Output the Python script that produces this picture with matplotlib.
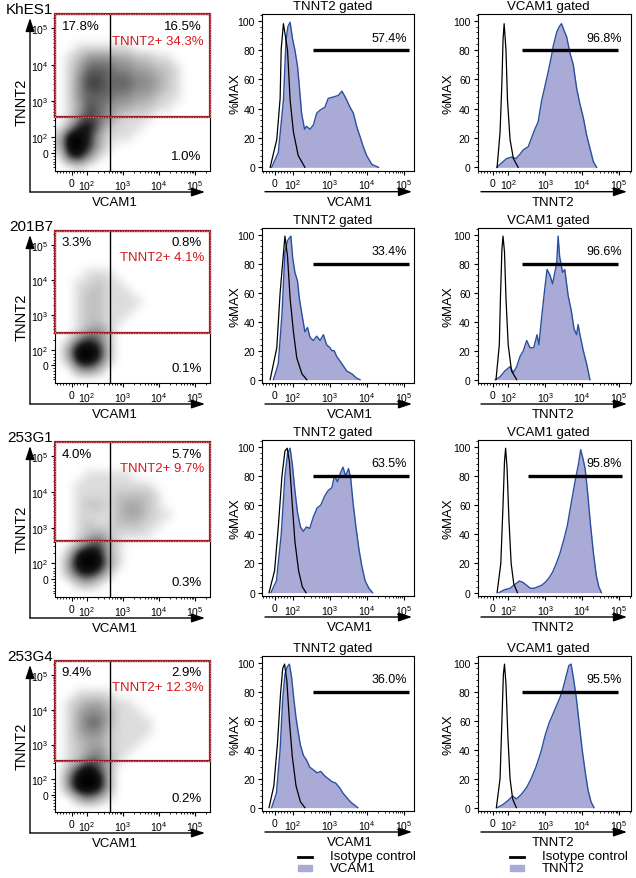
import numpy as np
import matplotlib
matplotlib.use("Agg")
import matplotlib.pyplot as plt
from matplotlib.patches import Rectangle, FancyArrowPatch
from matplotlib.lines import Line2D
from matplotlib.colors import LinearSegmentedColormap
from matplotlib.ticker import FixedLocator, AutoMinorLocator

plt.rcParams['font.family'] = ['Liberation Sans', 'DejaVu Sans']
plt.rcParams['mathtext.fontset'] = 'custom'
plt.rcParams['mathtext.rm'] = 'Liberation Sans'
plt.rcParams['mathtext.it'] = 'Liberation Sans:italic'

# ---- data ----
lines = ["KhES1", "201B7", "253G1", "253G4"]
q1_pct = ["17.8%", "3.3%", "4.0%", "9.4%"]
q2_pct = ["16.5%", "0.8%", "5.7%", "2.9%"]
tnnt2_pos = ["TNNT2+ 34.3%", "TNNT2+ 4.1%", "TNNT2+ 9.7%", "TNNT2+ 12.3%"]
q4_pct = ["1.0%", "0.1%", "0.3%", "0.2%"]
vcam1_gate_pct = ["57.4%", "33.4%", "63.5%", "36.0%"]
tnnt2_gate_pct = ["96.8%", "96.6%", "95.8%", "95.5%"]

# quadrant gates, in display decades (10^2 = 2, 10^3 = 3 ...)
vcam1_cut = 2.64
tnnt2_cut = [2.55, 2.49, 2.62, 2.52]
# histogram gate bars (start, end) in display decades
vcam1_bar = [(2.53, 5.14), (2.53, 5.14), (2.53, 5.14), (2.53, 5.14)]
tnnt2_bar = [(2.36, 4.97), (2.36, 4.97), (2.53, 5.07), (2.36, 4.97)]

# event density on a 16x16 grid (top row first), 0 = empty, 9 = solid
density = [
    ["0000000000000000",
     "0000000000000000",
     "0000000000000000",
     "0011111100000000",
     "0124443322110000",
     "0135554433221000",
     "0146655544321000",
     "0146655544321000",
     "0145554433211000",
     "0136543322110000",
     "0146542111000000",
     "0378521110000000",
     "2997311100000000",
     "2997310000000000",
     "0784100000000000",
     "0010000000000000"],
    ["0000000000000000",
     "0000000000000000",
     "0000000000000000",
     "0000000000000000",
     "0001110000000000",
     "0011211000000000",
     "0012211100000000",
     "0012211110000000",
     "0012211100000000",
     "0012211000000000",
     "0013420000000000",
     "0157520000000000",
     "0499820000000000",
     "0399720000000000",
     "0045300000000000",
     "0000000000000000"],
    ["0000000000000000",
     "0000000000000000",
     "0000000000000000",
     "0001111100000000",
     "0011111111000000",
     "0011112222100000",
     "0012212332100000",
     "0011112332110000",
     "0012112221100000",
     "0012321111000000",
     "0025631000000000",
     "0289831000000000",
     "0499941000000000",
     "0378620000000000",
     "0023100000000000",
     "0000000000000000"],
    ["0000000000000000",
     "0000000000000000",
     "0000000000000000",
     "0011110000000000",
     "0123321100000000",
     "0134431110000000",
     "0135531111000000",
     "0134421111000000",
     "0123321110000000",
     "0123421100000000",
     "0125531000000000",
     "0379630000000000",
     "0599930000000000",
     "0499830000000000",
     "0035310000000000",
     "0000000000000000"],
]

# histograms, x in display decades, y in %MAX
vcam1_iso_x = [
    [1.38, 1.56, 1.65, 1.68, 1.74, 1.85, 1.92, 2.01, 2.14, 2.32],
    [1.38, 1.56, 1.65, 1.72, 1.78, 1.85, 1.92, 2.01, 2.10, 2.24, 2.37],
    [1.35, 1.50, 1.60, 1.70, 1.78, 1.84, 1.90, 1.98, 2.05, 2.15, 2.25, 2.35],
    [1.35, 1.48, 1.58, 1.66, 1.72, 1.77, 1.83, 1.90, 1.98, 2.08, 2.20, 2.32],
]
vcam1_iso_y = [
    [0, 19, 47, 81, 98, 80, 46, 24, 8, 0],
    [0, 22, 60, 81, 99, 85, 56, 33, 15, 4, 0],
    [0, 15, 45, 80, 97, 99, 90, 60, 35, 15, 4, 0],
    [0, 15, 45, 78, 96, 99, 88, 60, 35, 15, 4, 0],
]
vcam1_x = [
    [1.42, 1.60, 1.74, 1.81, 1.86, 1.92, 1.99, 2.05, 2.12, 2.17, 2.23, 2.31, 2.36, 2.46, 2.55, 2.64,
     2.73, 2.86, 2.95, 3.09, 3.22, 3.32, 3.41, 3.54, 3.63, 3.72, 3.81, 3.90, 3.99, 4.13, 4.31],
    [1.47, 1.60, 1.70, 1.78, 1.85, 1.94, 1.99, 2.05, 2.12, 2.17, 2.24, 2.32, 2.39, 2.46, 2.55, 2.64,
     2.73, 2.82, 2.91, 3.00, 3.05, 3.11, 3.18, 3.32, 3.45, 3.59, 3.72, 3.81],
    [1.40, 1.55, 1.68, 1.78, 1.85, 1.92, 1.98, 2.05, 2.12, 2.20, 2.28, 2.36, 2.45, 2.55, 2.65, 2.75,
     2.85, 2.95, 3.05, 3.12, 3.20, 3.28, 3.35, 3.42, 3.50, 3.56, 3.62, 3.70, 3.78, 3.86, 3.95, 4.05, 4.15],
    [1.42, 1.55, 1.65, 1.72, 1.78, 1.84, 1.90, 1.96, 2.02, 2.08, 2.14, 2.20, 2.28, 2.36, 2.45, 2.55,
     2.65, 2.75, 2.85, 2.95, 3.05, 3.15, 3.25, 3.35, 3.45, 3.55, 3.65, 3.75],
]
vcam1_y = [
    [0, 10, 46, 87, 96, 99, 87, 80, 69, 55, 37, 26, 28, 26, 29, 37,
     39, 41, 47, 48, 49, 52, 48, 41, 37, 28, 21, 14, 8, 2, 0],
    [0, 11, 45, 88, 96, 99, 84, 74, 68, 56, 45, 33, 36, 29, 27, 30,
     27, 31, 24, 22, 20, 20, 16, 11, 6, 4, 1, 0],
    [0, 8, 40, 80, 95, 99, 88, 70, 55, 45, 42, 45, 44, 52, 58, 60,
     66, 70, 72, 80, 76, 82, 86, 80, 85, 78, 62, 45, 30, 18, 8, 3, 0],
    [0, 10, 40, 75, 92, 97, 99, 90, 75, 62, 52, 43, 36, 33, 28, 26,
     24, 25, 22, 20, 18, 17, 14, 10, 7, 4, 2, 0],
]
tnnt2_iso_x = [
    [1.70, 1.78, 1.83, 1.86, 1.89, 1.94, 1.98, 2.05, 2.14, 2.27],
    [1.67, 1.76, 1.79, 1.83, 1.86, 1.90, 1.94, 2.00, 2.09, 2.23],
    [1.70, 1.80, 1.86, 1.90, 1.93, 1.97, 2.02, 2.08, 2.15, 2.25],
    [1.68, 1.78, 1.83, 1.87, 1.90, 1.94, 1.99, 2.05, 2.12, 2.22],
]
tnnt2_iso_y = [
    [0, 24, 58, 87, 98, 80, 46, 19, 6, 0],
    [0, 24, 56, 90, 99, 88, 56, 24, 6, 0],
    [0, 20, 60, 90, 99, 85, 50, 20, 6, 0],
    [0, 20, 60, 92, 99, 85, 50, 20, 6, 0],
]
tnnt2_x = [
    [1.69, 1.82, 1.96, 2.09, 2.21, 2.32, 2.41, 2.54, 2.63, 2.72, 2.81, 2.90, 2.99, 3.08, 3.17,
     3.22, 3.31, 3.38, 3.44, 3.50, 3.58, 3.67, 3.76, 3.85, 3.94, 4.03, 4.12, 4.21, 4.30, 4.39],
    [1.65, 1.78, 1.91, 2.05, 2.14, 2.23, 2.32, 2.41, 2.50, 2.59, 2.69, 2.78, 2.83, 2.90, 2.99, 3.05,
     3.13, 3.20, 3.26, 3.31, 3.35, 3.39, 3.47, 3.53, 3.62, 3.71, 3.78, 3.85, 3.89, 3.94, 4.03, 4.12, 4.21],
    [1.75, 1.90, 2.05, 2.20, 2.30, 2.40, 2.50, 2.60, 2.70, 2.80, 2.90, 3.00, 3.10, 3.20, 3.30, 3.40,
     3.50, 3.60, 3.68, 3.75, 3.82, 3.90, 3.96, 4.02, 4.08, 4.15, 4.22, 4.30, 4.38, 4.45, 4.52],
    [1.70, 1.85, 2.00, 2.12, 2.22, 2.35, 2.50, 2.62, 2.75, 2.88, 3.00, 3.10, 3.20, 3.30, 3.40, 3.48,
     3.56, 3.64, 3.70, 3.76, 3.84, 3.92, 4.00, 4.08, 4.16, 4.24, 4.32],
]
tnnt2_y = [
    [0, 3, 6, 7, 6, 9, 12, 14, 20, 26, 31, 45, 55, 65, 76,
     83, 92, 96, 98, 94, 89, 78, 70, 54, 43, 34, 22, 13, 4, 0],
    [0, 2, 6, 9, 5, 9, 16, 20, 27, 22, 22, 31, 24, 42, 63, 76,
     72, 66, 74, 80, 99, 85, 74, 76, 58, 47, 35, 31, 38, 31, 20, 11, 0],
    [0, 2, 3, 6, 8, 7, 5, 3, 3, 4, 5, 7, 10, 14, 20, 27,
     36, 46, 58, 68, 78, 88, 98, 92, 85, 68, 48, 28, 12, 4, 0],
    [0, 2, 5, 8, 6, 9, 14, 20, 28, 38, 50, 58, 64, 70, 76, 82,
     90, 98, 99, 90, 76, 58, 40, 25, 12, 4, 0],
]

# ---- layout (reference pixels) ----
W, H = 636, 879
sc_rows = [(15, 172), (232, 384), (443, 598), (662, 813)]
hi_rows = [(15, 171.7), (229, 384), (441, 597), (657, 812)]
sc_x = (55, 209.5)
hi_cols = [(262, 414), (477.5, 631)]

FILL = '#aaaad6'
EDGE = '#2850a0'
RED = '#d7191c'
GATE = '#9b1c22'
labels_dec = ['0', '$10^2$', '$10^3$', '$10^4$', '$10^5$']

fig = plt.figure(figsize=(W / 100, H / 100), dpi=100)


def rect(x0, x1, y0, y1):
    return [x0 / W, 1 - y1 / H, (x1 - x0) / W, (y1 - y0) / H]


def fx(x):
    return x / W


def fy(y):
    return 1 - y / H


def arrow(x0, y0, x1, y1):
    a = FancyArrowPatch((fx(x0), fy(y0)), (fx(x1), fy(y1)), transform=fig.transFigure,
                        arrowstyle='-|>,head_length=0.9,head_width=0.3', mutation_scale=9,
                        lw=1.0, color='black', shrinkA=0, shrinkB=0)
    fig.add_artist(a)


def flow_axis(axis, zero, lo, hi):
    major = [zero, 2, 3, 4, 5]
    axis.set_major_locator(FixedLocator(major))
    axis.set_ticklabels(labels_dec)
    minor = [d + np.log10(k) for d in (2, 3, 4, 5) for k in range(2, 10)]
    minor += list(np.arange(zero - 0.4, 1.95, 0.08))
    minor = [m for m in minor if lo < m < hi and abs(m - zero) > 0.02]
    axis.set_minor_locator(FixedLocator(minor))


cmap = LinearSegmentedColormap.from_list(
    'dots', [(0, 'white'), (0.12, '#d9d9d9'), (0.45, '#8a8a8a'), (0.8, '#1a1a1a'), (1, 'black')])

sx_lo, sx_hi = 1.11, 5.40
sy_lo, sy_hi = 1.06, 5.40

for i in range(4):
    top, bot = sc_rows[i]
    ax = fig.add_axes(rect(sc_x[0], sc_x[1], top, bot))
    ax.set_xlim(sx_lo, sx_hi)
    ax.set_ylim(sy_lo, sy_hi)
    grid = np.array([[int(c) for c in s] for s in density[i]], dtype=float)
    ax.imshow(grid, extent=(sx_lo, sx_hi, sy_lo, sy_hi), cmap=cmap, vmin=0, vmax=9,
              interpolation='bicubic', interpolation_stage='data', aspect='auto',
              origin='upper', zorder=1)
    ax.axvline(vcam1_cut, color='black', lw=1.0, zorder=3)
    ax.axhline(tnnt2_cut[i], color=GATE, lw=1.3, zorder=3)
    g = Rectangle((sx_lo, tnnt2_cut[i]), sx_hi - sx_lo, sy_hi - tnnt2_cut[i], fill=False,
                  edgecolor=GATE, lw=1.6, zorder=4, clip_on=False)
    ax.add_patch(g)
    g2 = Rectangle((sx_lo, tnnt2_cut[i]), sx_hi - sx_lo, sy_hi - tnnt2_cut[i], fill=False,
                   edgecolor='#f2b8b8', lw=0.6, ls=(0, (1, 2)), zorder=5, clip_on=False)
    ax.add_patch(g2)
    for s in ax.spines.values():
        s.set_linewidth(0.8)
    flow_axis(ax.xaxis, 1.57, sx_lo, sx_hi)
    flow_axis(ax.yaxis, 1.56, sy_lo, sy_hi)
    ax.tick_params(which='major', direction='out', length=3, width=0.8, labelsize=7.5, pad=2)
    ax.tick_params(which='minor', direction='out', length=1.6, width=0.6)

    ax.text(0.043, 0.925, q1_pct[i], transform=ax.transAxes, ha='left', va='center', fontsize=9.5)
    ax.text(0.95, 0.925, q2_pct[i], transform=ax.transAxes, ha='right', va='center', fontsize=9.5)
    ax.text(0.965, 0.83, tnnt2_pos[i], transform=ax.transAxes, ha='right', va='center',
            fontsize=9.5, color=RED)
    ax.text(0.95, 0.096, q4_pct[i], transform=ax.transAxes, ha='right', va='center', fontsize=9.5)

    fig.text(fx(53), fy(top - 5), lines[i], ha='right', va='center', fontsize=11)
    arrow(30, bot + 21, 30, top + 4)
    arrow(30, bot + 21, 205, bot + 21)
    fig.text(fx(21.5), fy((top + bot) / 2 + 9), 'TNNT2', rotation=90, ha='center', va='center',
             fontsize=10.5)
    fig.text(fx(114.5), fy(bot + 31), 'VCAM1', ha='center', va='center', fontsize=9.5)

hist_sets = [
    ('TNNT2 gated', 'VCAM1', vcam1_iso_x, vcam1_iso_y, vcam1_x, vcam1_y, vcam1_bar, vcam1_gate_pct),
    ('VCAM1 gated', 'TNNT2', tnnt2_iso_x, tnnt2_iso_y, tnnt2_x, tnnt2_y, tnnt2_bar, tnnt2_gate_pct),
]
hx_lim = [(1.16, 5.27), (1.17, 5.32)]
hx_zero = [1.51, 1.58]
title_x = [333, 548]
ylab_x = [236, 449]
xlab_x = [350, 553]
arrow_x = [(265, 412), (481, 627)]

for c, (title, xname, iso_x, iso_y, smp_x, smp_y, bars, pcts) in enumerate(hist_sets):
    x0, x1 = hi_cols[c]
    for i in range(4):
        top, bot = hi_rows[i]
        ax = fig.add_axes(rect(x0, x1, top, bot))
        ax.set_xlim(*hx_lim[c])
        ax.set_ylim(-2.3, 104.6)
        ax.fill_between(smp_x[i], smp_y[i], 0, color=FILL, lw=0, zorder=1)
        ax.plot(smp_x[i], smp_y[i], color=EDGE, lw=1.0, zorder=2)
        ax.plot(iso_x[i], iso_y[i], color='black', lw=0.9, zorder=3)
        ax.plot(bars[i], [80, 80], color='black', lw=2.4, solid_capstyle='butt', zorder=4)
        ax.text(5.07, 88.5, pcts[i], ha='right', va='center', fontsize=9)
        for s in ax.spines.values():
            s.set_linewidth(0.8)
        flow_axis(ax.xaxis, hx_zero[c], *hx_lim[c])
        ax.yaxis.set_major_locator(FixedLocator([0, 20, 40, 60, 80, 100]))
        ax.yaxis.set_minor_locator(AutoMinorLocator(5))
        ax.tick_params(which='major', direction='out', length=3, width=0.8, labelsize=7.5, pad=2)
        ax.tick_params(which='minor', direction='out', length=1.6, width=0.6)

        fig.text(fx(title_x[c]), fy(top - 8), title, ha='center', va='center', fontsize=9.5)
        fig.text(fx(ylab_x[c]), fy((top + bot) / 2), '%MAX', rotation=90, ha='center',
                 va='center', fontsize=9.5)
        arrow(arrow_x[c][0], bot + 21, arrow_x[c][1], bot + 21)
        fig.text(fx(xlab_x[c]), fy(bot + 31), xname, ha='center', va='center', fontsize=9.5)

# legends under the last row
for lx, tx, name in [(298, 330, 'VCAM1'), (510, 541.7, 'TNNT2')]:
    fig.add_artist(Line2D([fx(lx), fx(lx + 14)], [fy(857.7), fy(857.7)], color='black', lw=2,
                          transform=fig.transFigure))
    fig.add_artist(Rectangle((fx(lx), fy(871.7)), 14 / W, 6 / H, color=FILL,
                             transform=fig.transFigure))
    fig.text(fx(tx), fy(857.3), 'Isotype control', ha='left', va='center', fontsize=9.5)
    fig.text(fx(tx), fy(869), name, ha='left', va='center', fontsize=9.5)

fig.savefig('out.png', dpi=100)
